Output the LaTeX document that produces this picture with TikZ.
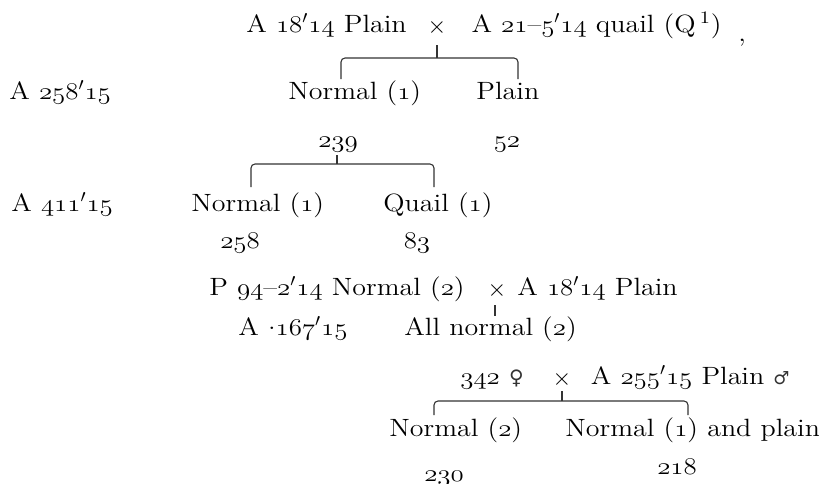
\documentclass[tikz,border=0pt]{standalone}
\usepackage{fontspec}
\usetikzlibrary{positioning}
\setmainfont{Latin Modern Roman}[FakeStretch=1.12]
\newfontfamily\signfont{DejaVu Sans}
\newcommand{\os}[1]{\scalebox{1.12}[1]{\legacyoldstylenums{#1}}}
\newcommand{\pr}{$'$}
\newcommand{\fem}{{\signfont\fontsize{10}{12}\selectfont\color{black!80}\char"2640}}
\newcommand{\mal}{{\signfont\fontsize{9}{12}\selectfont\color{black!80}\char"2642}}

\begin{document}
\begin{tikzpicture}[
    x=0.5pt, y=-0.5pt,
    lbl/.style={inner sep=0pt, anchor=base west, font=\fontsize{12.5}{15}\selectfont},
    lblr/.style={lbl, anchor=base east},
    lblc/.style={lbl, anchor=base},
    bracket/.style={draw=black!80, line width=0.55pt, rounded corners=2pt},
    tick/.style={draw=black!80, line width=0.7pt}
]
\useasboundingbox (0,0) rectangle (819,483);

% first cross and its offspring
\node[lbl] (p1a) at (246,32) {A \os{18}\pr\os{14} Plain};
\node[lblc] (x1) at (437,33) {$\times$};
\node[lblr] (p1b) at (722,32) {A \os{21}--\os{5}\pr\os{14} quail (Q\,\textsuperscript{1})};
\node[lbl] (dot1) at (738,41) {,};
\node[lbl] (g1) at (9,99) {A \os{258}\pr\os{15}};
\node[lbl] (f1a) at (288,99) {Normal (\os{1})};
\node[lbl] (f1b) at (476,99) {Plain};
\node[lblc] (c1a) at (338,147) {\os{239}};
\node[lblc] (c1b) at (507,147) {\os{52}};

% second generation
\node[lbl] (g2) at (11,211) {A \os{411}\pr\os{15}};
\node[lbl] (f2a) at (191,211) {Normal (\os{1})};
\node[lbl] (f2b) at (383,211) {Quail (\os{1})};
\node[lblc] (c2a) at (240,248) {\os{258}};
\node[lblc] (c2b) at (417,248) {\os{83}};

% second cross
\node[lbl] (p2a) at (209,295) {P \os{94}--\os{2}\pr\os{14} Normal (\os{2})};
\node[lblc] (x2) at (497,296) {$\times$};
\node[lbl] (p2b) at (517,295) {A \os{18}\pr\os{14} Plain};
\node[lbl] (g3) at (238,335) {A \raisebox{0.55ex}{.}\os{167}\pr\os{15}};
\node[lbl] (f3) at (404,335) {All normal (\os{2})};

% third cross
\node[lbl] (p3a) at (460,384) {\os{342} \fem};
\node[lblc] (x3) at (562,385) {$\times$};
\node[lblr] (p3b) at (790,384) {A \os{255}\pr\os{15} Plain \mal};
\node[lbl] (f4a) at (389,436) {Normal (\os{2})};
\node[lbl] (f4b) at (565,436) {Normal (\os{1}) and plain};
\node[lblc] (c4a) at (444,481) {\os{230}};
\node[lblc] (c4b) at (677,474) {\os{218}};

% brackets
\coordinate (k1) at (437,45);
\coordinate (t1) at (437,58);
\coordinate (b1l) at (341,79);
\coordinate (b1r) at (518,79);
\coordinate (k2) at (337,155);
\coordinate (t2) at (337,164);
\coordinate (b2l) at (251,187);
\coordinate (b2r) at (434,187);
\coordinate (k3) at (495,305);
\coordinate (t3) at (495,316);
\coordinate (k4) at (562,391);
\coordinate (t4) at (562,401);
\coordinate (b4l) at (434,415);
\coordinate (b4r) at (688,415);

\draw[tick] (k1) -- (t1);
\draw[bracket] (b1l) |- (t1) -| (b1r);
\draw[tick] (k2) -- (t2);
\draw[bracket] (b2l) |- (t2) -| (b2r);
\draw[tick] (k3) -- (t3);
\draw[tick] (k4) -- (t4);
\draw[bracket] (b4l) |- (t4) -| (b4r);
\end{tikzpicture}
\end{document}
